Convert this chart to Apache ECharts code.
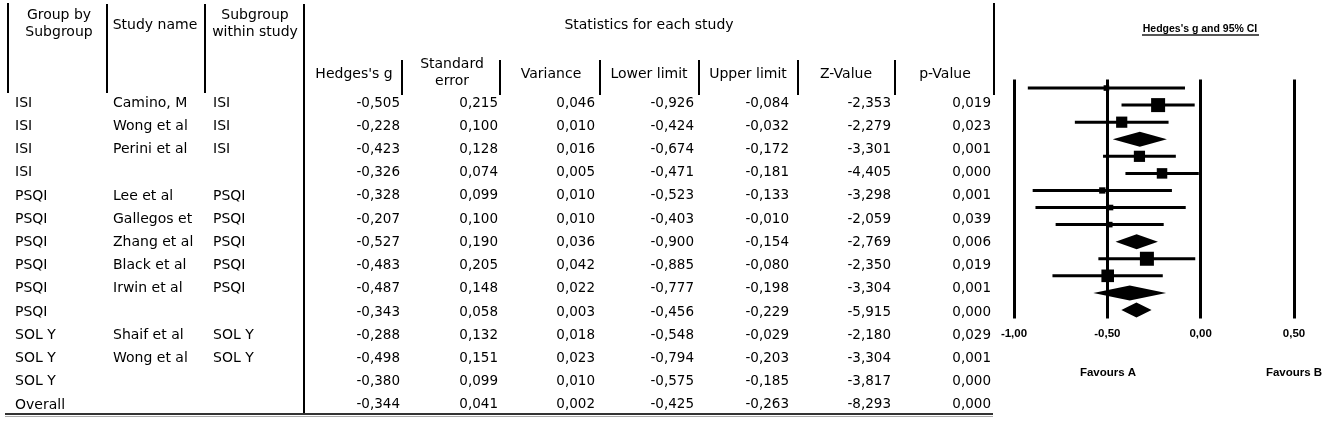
<!DOCTYPE html>
<html>
<head>
<meta charset="utf-8">
<title>Hedges's g forest plot</title>
<script src="https://cdn.jsdelivr.net/npm/echarts@6.0.0/dist/echarts.min.js"></script>
<style>
  body { margin: 0; background: #fff; }
  #chart { width: 1325px; height: 421px; }
</style>
</head>
<body>
<div id="chart"></div>
<script>
// table rows, top to bottom
const groups = ['ISI', 'ISI', 'ISI', 'ISI', 'PSQI', 'PSQI', 'PSQI', 'PSQI', 'PSQI', 'PSQI', 'SOL Y', 'SOL Y', 'SOL Y', 'Overall'];
const studies = ['Camino, M', 'Wong et al', 'Perini et al', '', 'Lee et al', 'Gallegos et', 'Zhang et al', 'Black et al', 'Irwin et al', '', 'Shaif et al', 'Wong et al', '', ''];
const subgroups = ['ISI', 'ISI', 'ISI', '', 'PSQI', 'PSQI', 'PSQI', 'PSQI', 'PSQI', '', 'SOL Y', 'SOL Y', '', ''];
const hedgesG = [-0.505, -0.228, -0.423, -0.326, -0.328, -0.207, -0.527, -0.483, -0.487, -0.343, -0.288, -0.498, -0.380, -0.344];
const stdErr = [0.215, 0.100, 0.128, 0.074, 0.099, 0.100, 0.190, 0.205, 0.148, 0.058, 0.132, 0.151, 0.099, 0.041];
const variance = [0.046, 0.010, 0.016, 0.005, 0.010, 0.010, 0.036, 0.042, 0.022, 0.003, 0.018, 0.023, 0.010, 0.002];
const lowerLimit = [-0.926, -0.424, -0.674, -0.471, -0.523, -0.403, -0.900, -0.885, -0.777, -0.456, -0.548, -0.794, -0.575, -0.425];
const upperLimit = [-0.084, -0.032, -0.172, -0.181, -0.133, -0.010, -0.154, -0.080, -0.198, -0.229, -0.029, -0.203, -0.185, -0.263];
const zValue = [-2.353, -2.279, -3.301, -4.405, -3.298, -2.059, -2.769, -2.350, -3.304, -5.915, -2.180, -3.304, -3.817, -8.293];
const pValue = [0.019, 0.023, 0.001, 0.000, 0.001, 0.039, 0.006, 0.019, 0.001, 0.000, 0.029, 0.001, 0.000, 0.000];
// relative box size of each study as drawn (summary rows are diamonds)
const boxWeight = [0.4, 1, 0.8, 0, 0.8, 0.75, 0.45, 0.4, 0.4, 0, 1, 0.9, 0, 0];
const xTicks = [-1, -0.5, 0, 0.5];

const rowIdx = groups.map((_, i) => i);
const fmt = v => v.toFixed(3).replace('.', ',');
const wordFont = '14px "DejaVu Sans"';
const numFont = '13.5px "DejaVu Sans"';
const plotFont = 'bold 11.5px "Liberation Sans"';

const cols = [
  { x: 15, align: 'left', font: wordFont, get: i => groups[i] },
  { x: 113, align: 'left', font: wordFont, get: i => studies[i] },
  { x: 213, align: 'left', font: wordFont, get: i => subgroups[i] },
  { x: 400, align: 'right', font: numFont, get: i => fmt(hedgesG[i]) },
  { x: 498, align: 'right', font: numFont, get: i => fmt(stdErr[i]) },
  { x: 595, align: 'right', font: numFont, get: i => fmt(variance[i]) },
  { x: 694, align: 'right', font: numFont, get: i => fmt(lowerLimit[i]) },
  { x: 789, align: 'right', font: numFont, get: i => fmt(upperLimit[i]) },
  { x: 891, align: 'right', font: numFont, get: i => fmt(zValue[i]) },
  { x: 991, align: 'right', font: numFont, get: i => fmt(pValue[i]) }
];

function renderRow(params, api) {
  const i = api.value(1);
  const y = api.coord([0, i])[1];
  return {
    type: 'group',
    children: cols.map(c => ({
      type: 'text',
      style: { text: c.get(i), x: c.x, y: y, textAlign: c.align, textVerticalAlign: 'middle', font: c.font, fill: '#000' }
    }))
  };
}

function renderForest(params, api) {
  const i = api.value(0);
  const c = api.coord([api.value(1), i]);
  const lo = api.coord([api.value(2), i])[0];
  const hi = api.coord([api.value(3), i])[0];
  if (studies[i] === '') {
    const h = 7.5;
    return {
      type: 'polygon',
      shape: { points: [[lo, c[1]], [c[0], c[1] - h], [hi, c[1]], [c[0], c[1] + h]] },
      style: { fill: '#000' }
    };
  }
  const s = 14 * api.value(4);
  return {
    type: 'group',
    children: [
      { type: 'line', shape: { x1: lo, y1: c[1], x2: hi, y2: c[1] }, style: { stroke: '#000', lineWidth: 3 } },
      { type: 'rect', shape: { x: c[0] - s / 2, y: c[1] - s / 2, width: s, height: s }, style: { fill: '#000' } }
    ]
  };
}

// table frame
const vline = (x, y1, y2) => ({ type: 'line', shape: { x1: x, y1: y1, x2: x, y2: y2 }, style: { stroke: '#000', lineWidth: 2 } });
const label = (text, x, y, font) => ({ type: 'text', style: { text: text, x: x, y: y, textAlign: 'center', textVerticalAlign: 'middle', font: font || wordFont, fill: '#000' } });

const frame = [
  vline(8, 3, 93), vline(107, 4, 93), vline(205, 4, 93), vline(304, 4, 414), vline(994, 3, 95),
  vline(402, 60, 95), vline(500, 60, 95), vline(600, 60, 95), vline(699, 60, 95), vline(798, 60, 95), vline(895, 60, 95),
  { type: 'line', shape: { x1: 5, y1: 414, x2: 993, y2: 414 }, style: { stroke: '#333', lineWidth: 2 } },
  { type: 'line', shape: { x1: 5, y1: 416.5, x2: 993, y2: 416.5 }, style: { stroke: '#aaa', lineWidth: 1 } },
  label('Group by', 59, 15), label('Subgroup', 59, 32),
  label('Study name', 155, 25),
  label('Subgroup', 255, 15), label('within study', 255, 32),
  label('Statistics for each study', 649, 25),
  label("Hedges's g", 354, 74),
  label('Standard', 452, 64), label('error', 452, 81),
  label('Variance', 551, 74),
  label('Lower limit', 649, 74),
  label('Upper limit', 748, 74),
  label('Z-Value', 846, 74),
  label('p-Value', 945, 74),
  // forest plot texts
  label("Hedges's g and 95% CI", 1200, 29, 'bold 10.5px "Liberation Sans"'),
  { type: 'line', shape: { x1: 1142, y1: 35, x2: 1259, y2: 35 }, style: { stroke: '#555', lineWidth: 2 } },
  label('Favours A', 1108, 373, plotFont),
  label('Favours B', 1294, 373, plotFont)
];

const chart = echarts.init(document.getElementById('chart'));
chart.setOption({
  backgroundColor: '#fff',
  animation: false,
  grid: [
    { left: 0, right: 0, top: 91.5, height: 325 },
    { left: 1014, right: 31, top: 79.5, height: 239 }
  ],
  xAxis: [
    { gridIndex: 0, type: 'value', min: 0, max: 1325, show: false },
    {
      gridIndex: 1, type: 'value', min: xTicks[0], max: xTicks[xTicks.length - 1], interval: 0.5,
      axisLine: { show: false }, axisTick: { show: false },
      axisLabel: { margin: 9, fontFamily: 'Liberation Sans', fontWeight: 'bold', fontSize: 11.5, color: '#000', formatter: v => v.toFixed(2).replace('.', ',') },
      splitLine: { show: true, showMinLine: true, showMaxLine: true, lineStyle: { color: '#000', width: 3 } }
    }
  ],
  yAxis: [
    { gridIndex: 0, type: 'category', data: rowIdx, inverse: true, show: false },
    { gridIndex: 1, type: 'category', data: rowIdx, inverse: true, show: false }
  ],
  graphic: frame,
  series: [
    {
      type: 'custom', xAxisIndex: 0, yAxisIndex: 0,
      data: rowIdx.map(i => [0, i]),
      encode: { x: 0, y: 1 },
      renderItem: renderRow
    },
    {
      type: 'custom', xAxisIndex: 1, yAxisIndex: 1,
      data: rowIdx.map(i => [i, hedgesG[i], lowerLimit[i], upperLimit[i], boxWeight[i]]),
      encode: { x: [1, 2, 3], y: 0 },
      renderItem: renderForest
    }
  ]
});
</script>
</body>
</html>
